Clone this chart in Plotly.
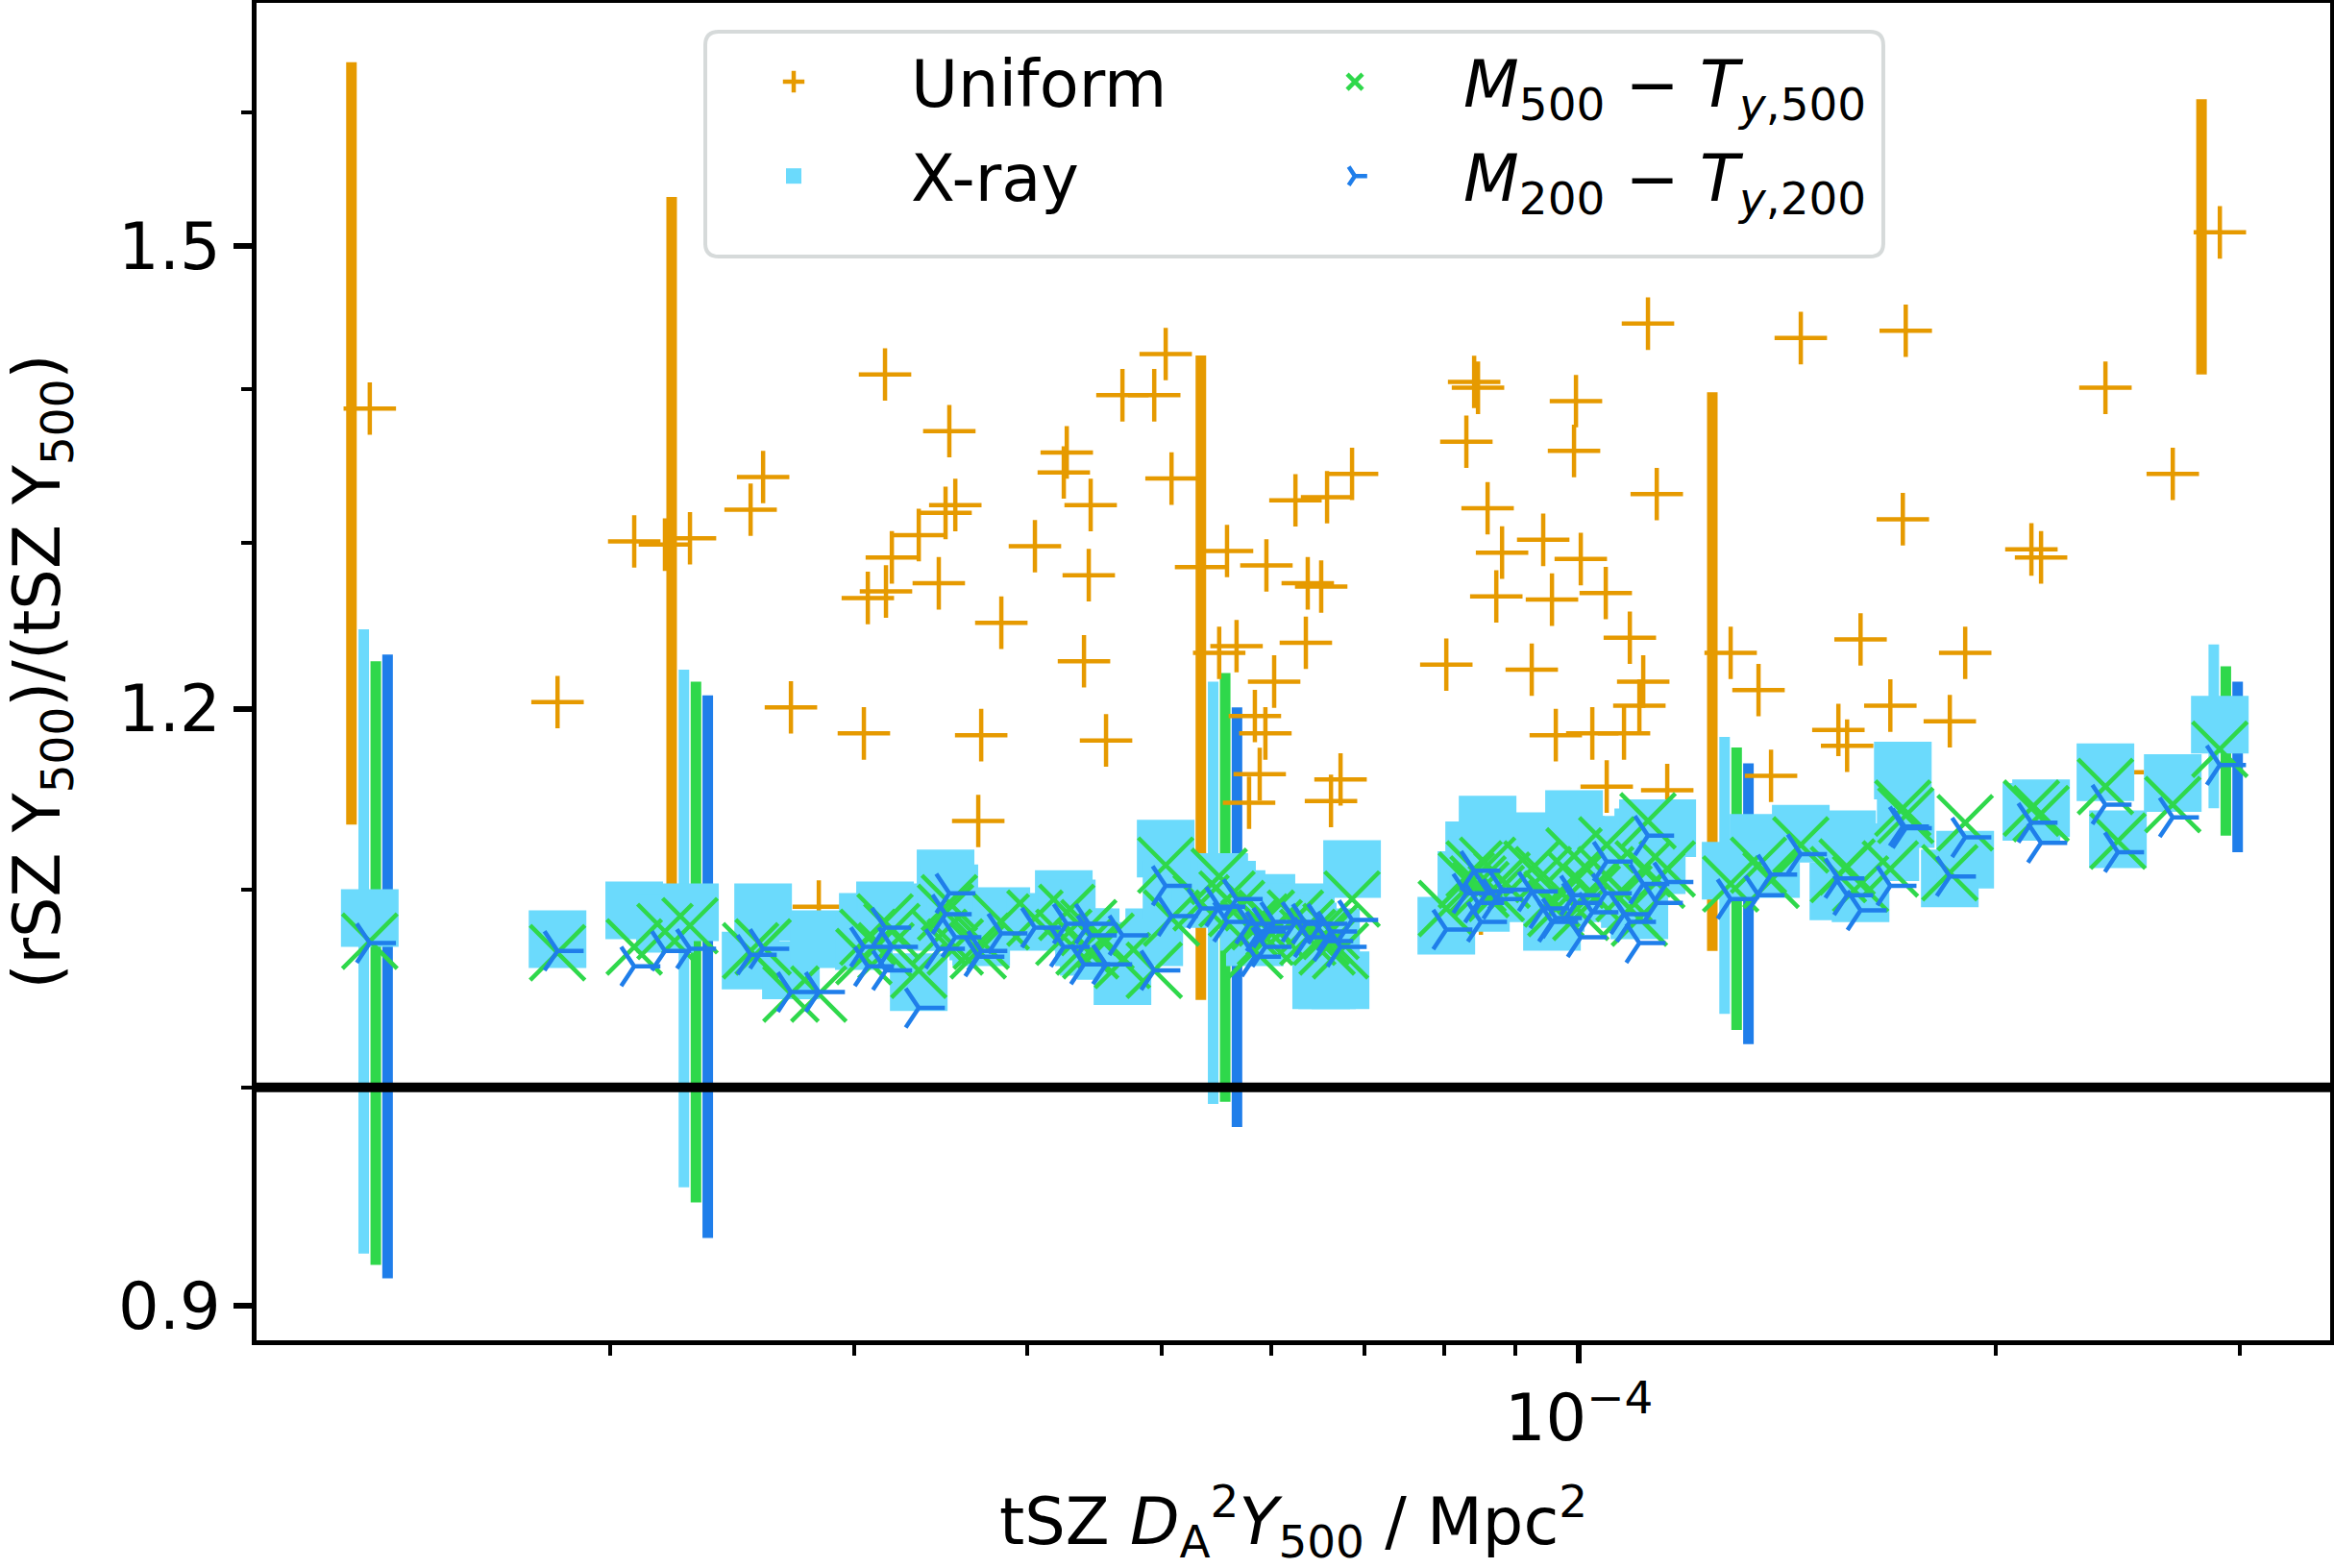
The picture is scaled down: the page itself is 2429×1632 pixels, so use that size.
import numpy as np
import plotly.graph_objects as go

# tSZ D_A^2 Y500 per cluster [Mpc^2]
tsz_y500 = [
    1.341e-5, 1.832e-5, 2.081e-5, 2.190e-5, 2.283e-5, 2.525e-5, 2.578e-5, 2.700e-5, 2.828e-5, 3.048e-5,
    3.068e-5, 3.157e-5, 3.162e-5, 3.193e-5, 3.339e-5, 3.452e-5, 3.491e-5, 3.513e-5, 3.548e-5, 3.686e-5,
    3.704e-5, 3.830e-5, 4.050e-5, 4.249e-5, 4.270e-5, 4.394e-5, 4.429e-5, 4.443e-5, 4.558e-5, 4.684e-5,
    4.938e-5, 5.033e-5, 5.082e-5, 5.338e-5, 5.501e-5, 5.573e-5, 5.662e-5, 5.781e-5, 5.837e-5, 5.884e-5,
    5.940e-5, 5.950e-5, 6.027e-5, 6.244e-5, 6.353e-5, 6.373e-5, 6.517e-5, 6.581e-5, 6.624e-5, 6.730e-5,
    6.860e-5, 8.023e-5, 8.295e-5, 8.403e-5, 8.457e-5, 8.498e-5, 8.593e-5, 8.718e-5, 8.802e-5, 9.247e-5,
    9.425e-5, 9.563e-5, 9.624e-5, 9.920e-5, 9.952e-5, 1.0032e-4, 1.0226e-4, 1.0457e-4, 1.0474e-4, 1.0779e-4,
    1.0884e-4, 1.1058e-4, 1.1129e-4, 1.1217e-4, 1.1382e-4, 1.1582e-4, 1.2869e-4, 1.3479e-4, 1.3762e-4, 1.4460e-4,
    1.5392e-4, 1.5617e-4, 1.5970e-4, 1.6780e-4, 1.7132e-4, 1.7215e-4, 1.8523e-4, 1.9003e-4, 2.1213e-4, 2.1556e-4,
    2.3990e-4, 2.4493e-4, 2.6830e-4, 2.9013e-4,
]

# rSZ/tSZ Y500 ratio for each temperature model
uniform = [
    1.387, 1.204, 1.301, 1.299, 1.303, 1.321, 1.342, 1.201, 1.091, 1.186,
    1.266, 1.410, 1.270, 1.291, 1.305, 1.275, 1.319, 1.372, 1.324, 1.137,
    1.185, 1.251, 1.298, 1.345, 1.358, 1.228, 1.280, 1.324, 1.182, 1.396,
    1.396, 1.424, 1.341, 1.285, 1.233, 1.295, 1.237, 1.147, 1.196, 1.163,
    1.186, 1.286, 1.216, 1.327, 1.239, 1.275, 1.273, 1.329, 1.148, 1.160,
    1.344, 1.226, 1.365, 1.405, 1.401, 1.090, 1.322, 1.267, 1.294, 1.223,
    1.302, 1.265, 1.185, 1.359, 1.392, 1.290, 1.186, 1.269, 1.156, 1.186,
    1.242, 1.202, 1.216, 1.445, 1.331, 1.154, 1.233, 1.211, 1.162, 1.435,
    1.188, 1.179, 1.241, 1.202, 1.315, 1.440, 1.193, 1.233, 1.296, 1.291,
    1.401, 1.164, 1.344, 1.510,
]
xray = [
    1.085, 1.074, 1.089, 1.082, 1.088, 1.063, 1.088, 1.058, 1.074, 1.073,
    1.083, 1.089, 1.085, 1.088, 1.052, 1.083, 1.106, 1.098, 1.083, 1.078,
    1.075, 1.086, 1.083, 1.095, 1.090, 1.075, 1.070, 1.075, 1.068, 1.055,
    1.075, 1.122, 1.100, 1.095, 1.104, 1.100, 1.095, 1.083, 1.075, 1.088,
    1.080, 1.093, 1.085, 1.088, 1.083, 1.078, 1.053, 1.053, 1.075, 1.053,
    1.111, 1.081, 1.105, 1.121, 1.113, 1.093, 1.135, 1.103, 1.108, 1.098,
    1.126, 1.083, 1.093, 1.138, 1.124, 1.098, 1.100, 1.113, 1.124, 1.103,
    1.095, 1.089, 1.128, 1.133, 1.113, 1.133, 1.110, 1.125, 1.111, 1.130,
    1.099, 1.127, 1.098, 1.120, 1.165, 1.138, 1.106, 1.116, 1.142, 1.144,
    1.164, 1.127, 1.158, 1.191,
]
m500 = [
    1.073, 1.067, 1.070, 1.078, 1.081, 1.068, 1.070, 1.046, 1.046, 1.065,
    1.075, 1.083, 1.068, 1.078, 1.058, 1.075, 1.088, 1.093, 1.070, 1.068,
    1.073, 1.083, 1.085, 1.075, 1.088, 1.070, 1.080, 1.068, 1.073, 1.063,
    1.058, 1.113, 1.085, 1.093, 1.107, 1.095, 1.090, 1.080, 1.068, 1.083,
    1.075, 1.085, 1.080, 1.085, 1.080, 1.075, 1.075, 1.070, 1.078, 1.068,
    1.095, 1.090, 1.105, 1.111, 1.103, 1.100, 1.113, 1.098, 1.105, 1.111,
    1.108, 1.095, 1.090, 1.118, 1.105, 1.088, 1.098, 1.108, 1.124, 1.098,
    1.090, 1.085, 1.111, 1.137, 1.105, 1.111, 1.103, 1.113, 1.105, 1.124,
    1.108, 1.112, 1.103, 1.111, 1.144, 1.140, 1.109, 1.136, 1.144, 1.141,
    1.156, 1.126, 1.146, 1.177,
]
m200 = [
    1.072, 1.068, 1.060, 1.068, 1.069, 1.066, 1.069, 1.047, 1.047, 1.070,
    1.060, 1.080, 1.058, 1.070, 1.039, 1.069, 1.087, 1.098, 1.075, 1.065,
    1.068, 1.077, 1.080, 1.070, 1.082, 1.061, 1.082, 1.076, 1.061, 1.076,
    1.058, 1.102, 1.086, 1.090, 1.091, 1.083, 1.095, 1.082, 1.065, 1.078,
    1.070, 1.080, 1.083, 1.083, 1.082, 1.075, 1.082, 1.073, 1.078, 1.070,
    1.084, 1.079, 1.098, 1.110, 1.093, 1.083, 1.099, 1.095, 1.100, 1.099,
    1.090, 1.083, 1.085, 1.097, 1.093, 1.075, 1.088, 1.098, 1.115, 1.087,
    1.083, 1.072, 1.103, 1.129, 1.093, 1.104, 1.095, 1.097, 1.108, 1.119,
    1.106, 1.097, 1.089, 1.102, 1.134, 1.133, 1.107, 1.128, 1.136, 1.125,
    1.146, 1.120, 1.139, 1.168,
]

# clusters shown with error bars, and the 1-sigma errors
err_idx = [0, 4, 34, 76, 93]
uniform_err = [0.252, 0.233, 0.190, 0.165, 0.100]
xray_err = [0.162, 0.135, 0.112, 0.074, 0.047]
m500_err = [0.155, 0.135, 0.114, 0.075, 0.048]
m200_err = [0.160, 0.139, 0.110, 0.074, 0.048]

ORANGE = "#E69A00"
SKY = "#6BDAFC"
GREEN = "#2FD84B"
BLUE = "#1F7EEA"
FONT = "DejaVu Sans"
FS = 67

X_RANGE = [1.111e-5, 3.485e-4]
Y_RANGE = [0.8852, 1.6866]

tsz = np.array(tsz_y500)
fig = go.Figure()

# error bars, dodged a little in x so they don't sit on top of each other
for vals, errs, shift, col in [(uniform, uniform_err, 0.97, ORANGE),
                               (xray, xray_err, 0.99, SKY),
                               (m500, m500_err, 1.01, GREEN),
                               (m200, m200_err, 1.03, BLUE)]:
    fig.add_trace(go.Scatter(
        x=tsz[err_idx] * shift, y=np.array(vals)[err_idx], mode="markers",
        marker=dict(size=1, color="rgba(0,0,0,0)"),
        error_y=dict(type="data", array=errs, thickness=11, width=0, color=col),
        showlegend=False, hoverinfo="skip"))

fig.add_trace(go.Scatter(
    x=tsz, y=uniform, mode="markers", name="Uniform", legend="legend", legendgroup="u",
    marker=dict(symbol="cross-thin", size=39, line=dict(color=ORANGE, width=4.5))))
fig.add_trace(go.Scatter(
    x=tsz, y=xray, mode="markers", name="X-ray", legend="legend", legendgroup="x",
    marker=dict(symbol="square", size=60, color=SKY, line=dict(width=0))))
fig.add_trace(go.Scatter(
    x=tsz, y=m500, mode="markers", legend="legend2", legendgroup="m5",
    name="<i>M</i><sub>500</sub> − <i>T</i><sub><i>y</i>,500</sub>",
    marker=dict(symbol="x-thin", size=57, line=dict(color=GREEN, width=4.5))))
fig.add_trace(go.Scatter(
    x=tsz, y=m200, mode="markers", legend="legend2", legendgroup="m2",
    name="<i>M</i><sub>200</sub> − <i>T</i><sub><i>y</i>,200</sub>",
    marker=dict(symbol="y-right", size=34, line=dict(color=BLUE, width=4.5))))

# rSZ = tSZ reference
fig.add_trace(go.Scatter(x=X_RANGE, y=[1.0, 1.0], mode="lines",
                         line=dict(color="black", width=10),
                         showlegend=False, hoverinfo="skip"))

axis_common = dict(type="log", showline=True, mirror=True, linecolor="black", linewidth=5,
                   ticks="outside", tickcolor="black", tickwidth=5.5, ticklen=19,
                   showgrid=False, zeroline=False, automargin=False,
                   tickfont=dict(family=FONT, size=FS, color="black"))
minor_ticks = dict(ticks="outside", ticklen=11, tickwidth=4, tickcolor="black", showgrid=False)
legend_common = dict(y=0.977, xanchor="left", yanchor="top", bgcolor="rgba(0,0,0,0)",
                     borderwidth=0, tracegroupgap=8,
                     font=dict(family=FONT, size=FS, color="black"))

# legend frame with rounded corners, in paper units
bx0, bx1, by0, by1 = 0.2164, 0.7845, 0.8103, 0.9784
rx, ry = 14 / 2158, 14 / 1392
frame_path = (f"M{bx0 + rx},{by0} L{bx1 - rx},{by0} Q{bx1},{by0} {bx1},{by0 + ry} "
              f"L{bx1},{by1 - ry} Q{bx1},{by1} {bx1 - rx},{by1} "
              f"L{bx0 + rx},{by1} Q{bx0},{by1} {bx0},{by1 - ry} "
              f"L{bx0},{by0 + ry} Q{bx0},{by0} {bx0 + rx},{by0} Z")

fig.update_layout(
    width=2429, height=1632,
    margin=dict(l=267, r=4, t=3, b=237),
    paper_bgcolor="white", plot_bgcolor="white",
    font=dict(family=FONT, color="black"),
    xaxis=dict(**axis_common,
               range=[np.log10(X_RANGE[0]), np.log10(X_RANGE[1])],
               tickvals=[1e-4], ticktext=["10<sup>−4</sup>"],
               minor=dict(tickvals=[2e-5, 3e-5, 4e-5, 5e-5, 6e-5, 7e-5, 8e-5, 9e-5, 2e-4, 3e-4],
                          **minor_ticks),
               title=dict(text="tSZ <i>D</i><sub>A</sub><sup>2</sup><i>Y</i><sub>500</sub> / Mpc<sup>2</sup>",
                          font=dict(family=FONT, size=FS), standoff=56)),
    yaxis=dict(**axis_common,
               range=[np.log10(Y_RANGE[0]), np.log10(Y_RANGE[1])],
               tickvals=[0.9, 1.2, 1.5], ticktext=["0.9", "1.2", "1.5"],
               minor=dict(tickvals=[1.0, 1.1, 1.3, 1.4, 1.6], **minor_ticks),
               title=dict(text="(rSZ Y<sub>500</sub>)/(tSZ Y<sub>500</sub>)",
                          font=dict(family=FONT, size=FS), standoff=68)),
    legend=dict(x=0.2025, itemwidth=234, **legend_common),
    legend2=dict(x=0.4773, itemwidth=216, **legend_common),
    shapes=[dict(type="path", xref="paper", yref="paper", path=frame_path,
                 line=dict(color="#D6DADA", width=4), fillcolor="rgba(255,255,255,0.8)", layer="above")],
)

# page body has a default 8px margin; drop it so the figure fills the window
fig.write_html("out.html", config={"displayModeBar": False},
               post_script="document.body.style.margin='0px';")
